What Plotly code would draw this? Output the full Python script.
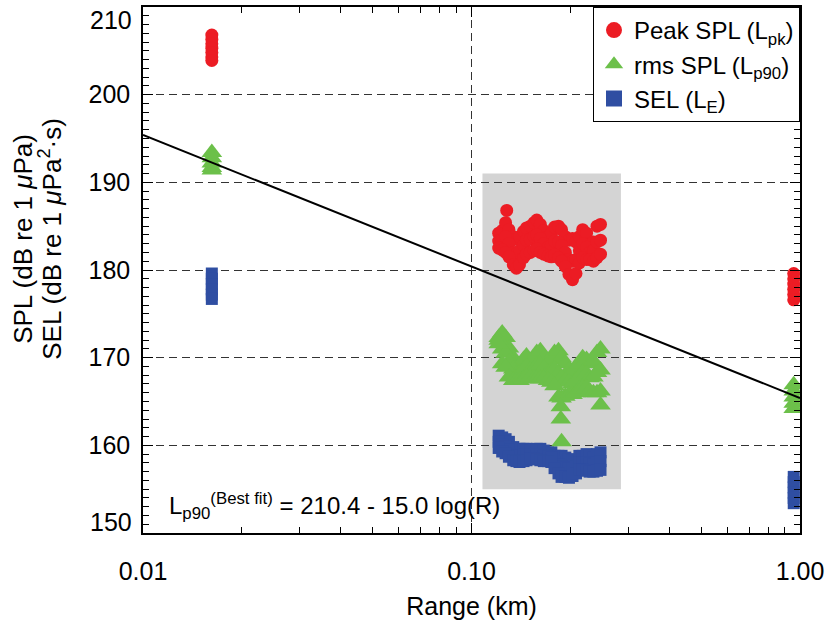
import math
import plotly.graph_objects as go

# ---------------- data ----------------
range_left = 0.0162
range_right = 0.957
range_mid = [0.121, 0.124, 0.127, 0.130, 0.134, 0.137, 0.140, 0.144, 0.147, 0.151,
             0.155, 0.158, 0.162, 0.166, 0.171, 0.175, 0.179, 0.184, 0.188, 0.193,
             0.198, 0.203, 0.208, 0.213, 0.218, 0.224, 0.229, 0.235, 0.241, 0.247]

peak_left = [206.8, 206.3, 205.8, 205.3, 204.8, 204.3, 203.9]
peak_mid_hi = [184.2, 184.5, 185.4, 184.6, 183.8, 183.5, 183.8, 184.4, 184.8, 185.0,
               185.4, 185.7, 185.2, 184.5, 183.8, 184.2, 184.9, 185.0, 184.6, 183.8,
               183.4, 183.6, 183.2, 183.8, 184.6, 184.2, 183.0, 183.2, 185.0, 185.2]
peak_mid_md = [183.3, 183.4, 183.8, 183.0, 182.0, 181.8, 182.2, 182.8, 183.4, 183.5,
               183.8, 184.0, 183.6, 183.0, 182.6, 182.8, 183.3, 183.2, 182.8, 182.0,
               181.2, 181.0, 181.2, 182.2, 183.0, 182.6, 182.0, 182.2, 183.2, 183.4]
peak_mid_lo = [182.5, 182.3, 182.0, 181.5, 180.6, 180.2, 180.6, 181.4, 181.8, 182.0,
               182.2, 182.4, 182.0, 181.8, 181.6, 181.5, 181.7, 181.4, 181.0, 180.4,
               179.5, 178.9, 179.6, 180.8, 181.4, 181.2, 181.2, 181.0, 181.4, 181.8]
peak_out_x = [0.128]
peak_out_y = [186.8]
peak_right = [179.6, 179.0, 178.4, 177.8, 177.2, 176.6]

rms_left = [193.4, 192.8, 192.2, 191.7, 191.4]
rms_mid_hi = [172.3, 172.8, 172.3, 171.1, 170.0, 168.9, 169.2, 169.8, 170.2, 169.4,
              169.8, 170.6, 170.8, 170.0, 169.3, 169.8, 170.6, 170.8, 170.0, 169.3,
              168.6, 168.3, 169.0, 169.3, 170.0, 169.8, 169.3, 169.6, 170.6, 171.0]
rms_mid_md = [172.0, 171.0, 170.5, 169.5, 168.7, 168.1, 168.3, 168.7, 169.0, 168.6,
              168.7, 169.1, 169.2, 168.8, 168.3, 168.5, 168.7, 168.2, 167.7, 167.4,
              167.2, 167.0, 167.5, 167.8, 168.3, 168.2, 167.7, 167.8, 168.3, 168.6]
rms_mid_lo = [171.6, 169.3, 168.9, 167.8, 167.4, 167.4, 167.4, 167.6, 167.8, 167.8,
              167.6, 167.6, 167.6, 167.6, 167.4, 167.2, 166.8, 165.5, 165.4, 165.6,
              165.8, 165.8, 166.0, 166.4, 166.6, 166.6, 166.2, 166.0, 166.0, 166.2]
rms_out_x = [0.187, 0.187, 0.188, 0.247]
rms_out_y = [164.4, 163.0, 160.4, 164.6]
rms_right = [166.9, 166.2, 165.5, 164.8, 164.2]

sel_left = [179.6, 179.0, 178.4, 177.8, 177.2, 176.7]
sel_mid_hi = [161.1, 160.9, 160.7, 160.4, 159.8, 159.4, 159.6, 159.6, 159.6, 159.4,
              159.5, 159.6, 159.6, 159.4, 159.2, 159.2, 158.8, 158.8, 158.8, 158.6,
              158.4, 158.3, 158.4, 158.8, 158.8, 159.0, 158.8, 158.6, 159.0, 159.2]
sel_mid_md = [160.4, 160.1, 159.9, 159.5, 159.0, 158.8, 158.8, 158.9, 159.0, 159.0,
              159.0, 159.0, 159.0, 158.8, 158.7, 158.6, 158.1, 157.8, 157.6, 157.5,
              157.4, 157.4, 157.6, 158.0, 158.0, 158.0, 157.9, 157.8, 158.0, 158.2]
sel_mid_lo = [159.7, 159.3, 159.1, 158.7, 158.3, 158.2, 158.1, 158.2, 158.3, 158.5,
              158.5, 158.4, 158.3, 158.2, 158.2, 158.1, 157.4, 156.8, 156.4, 156.4,
              156.3, 156.5, 156.8, 157.2, 157.2, 157.1, 157.0, 157.0, 157.1, 157.2]
sel_right = [156.4, 155.8, 155.2, 154.6, 154.0, 153.4]

fit_range = [0.01, 1.0]
fit_a, fit_b = 210.4, 15.0  # L = 210.4 - 15.0 log10(R[m])

shade_x = [0.108, 0.285]
shade_y = [155.0, 191.0]

ytick_vals = [150, 160, 170, 180, 190, 200, 210]
ytick_text = ["", "160", "170", "180", "190", "200", ""]
xtick_vals = [0.01, 0.1, 1.0]
xtick_text = ["0.01", "0.10", "1.00"]

y_title_lines = ["SPL (dB re 1 <i>μ</i>Pa)", "SEL (dB re 1 <i>μ</i>Pa<sup>2</sup>·s)"]

RED = "#ec1c24"
GREEN = "#6cc04a"
BLUE = "#2f4ea2"
FONT = "Liberation Sans, Arial, sans-serif"


def series_xy(left, his, mds, los, ox, oy, right):
    xs = [range_left] * len(left)
    ys = list(left)
    for arr in (his, mds, los):
        xs += range_mid
        ys += arr
    xs += ox
    ys += oy
    xs += [range_right] * len(right)
    ys += right
    return xs, ys


fig = go.Figure()

fit_y = [fit_a - fit_b * math.log10(r * 1000) for r in fit_range]

sx, sy = series_xy(sel_left, sel_mid_hi, sel_mid_md, sel_mid_lo, [], [], sel_right)
rx, ry = series_xy(rms_left, rms_mid_hi, rms_mid_md, rms_mid_lo, rms_out_x, rms_out_y, rms_right)
px, py = series_xy(peak_left, peak_mid_hi, peak_mid_md, peak_mid_lo, peak_out_x, peak_out_y, peak_right)

fig.add_trace(go.Scatter(x=sx, y=sy, mode="markers", showlegend=False,
                         marker=dict(symbol="square", size=12, color=BLUE, line=dict(width=0))))
fig.add_trace(go.Scatter(x=rx, y=ry, mode="markers", showlegend=False,
                         marker=dict(symbol="triangle-up", size=18, color=GREEN, line=dict(width=0))))
fig.add_trace(go.Scatter(x=px, y=py, mode="markers", showlegend=False,
                         marker=dict(symbol="circle", size=13, color=RED, line=dict(width=0))))
fig.add_trace(go.Scatter(x=fit_range, y=fit_y, mode="lines", showlegend=False,
                         line=dict(color="black", width=2)))

# legend entries
fig.add_trace(go.Scatter(x=[None], y=[None], mode="markers", name="Peak SPL (L<sub>pk</sub>)",
                         marker=dict(symbol="circle", size=16, color=RED)))
fig.add_trace(go.Scatter(x=[None], y=[None], mode="markers", name="rms SPL (L<sub>p90</sub>)",
                         marker=dict(symbol="triangle-up", size=16, color=GREEN)))
fig.add_trace(go.Scatter(x=[None], y=[None], mode="markers", name="SEL (L<sub>E</sub>)",
                         marker=dict(symbol="square", size=16, color=BLUE)))

fig.add_shape(type="rect", xref="x", yref="y", x0=shade_x[0], x1=shade_x[1],
              y0=shade_y[0], y1=shade_y[1], fillcolor="#d4d4d4", line=dict(width=0),
              layer="below")

fig.update_layout(
    width=829, height=625,
    margin=dict(l=143, r=27, t=5, b=92),
    paper_bgcolor="white", plot_bgcolor="white",
    font=dict(family=FONT, size=24, color="black"),
    legend=dict(x=1, y=1, xanchor="right", yanchor="top",
                bordercolor="black", borderwidth=1, bgcolor="white",
                font=dict(size=24), tracegroupgap=0, itemwidth=30),
)

fig.update_xaxes(
    type="log", range=[-2, 0],
    tickvals=xtick_vals, ticktext=xtick_text, tickfont=dict(size=25),
    ticks="inside", ticklen=10, tickcolor="black", tickwidth=1,
    ticklabelstandoff=15,
    minor=dict(dtick="D1", ticks="inside", ticklen=6, tickcolor="black", tickwidth=1, showgrid=False),
    showgrid=True, gridcolor="#333333", griddash="8px,5px", gridwidth=1,
    showline=True, linecolor="black", linewidth=1.5, mirror="ticks",
    zeroline=False,
    title=dict(text="Range (km)", font=dict(size=25), standoff=14),
)

fig.update_yaxes(
    range=[150, 210],
    tickvals=ytick_vals, ticktext=ytick_text, tickfont=dict(size=25),
    ticks="inside", ticklen=10, tickcolor="black", tickwidth=1,
    ticklabelstandoff=6,
    minor=dict(dtick=1, ticks="inside", ticklen=6, tickcolor="black", tickwidth=1, showgrid=False),
    showgrid=True, gridcolor="#333333", griddash="8px,5px", gridwidth=1,
    showline=True, linecolor="black", linewidth=1.5, mirror="ticks",
    zeroline=False,
)

# y-axis title, two lines
for line_text, xpos in zip(y_title_lines, [-0.182, -0.141]):
    fig.add_annotation(xref="paper", yref="paper", x=xpos, y=0.56, text=line_text,
                       textangle=-90, showarrow=False, xanchor="center", yanchor="middle",
                       font=dict(size=26))

# end tick labels (drawn inside, as in the original)
fig.add_annotation(xref="paper", yref="y", x=0, y=210, text="210", showarrow=False,
                   xanchor="right", yanchor="middle", xshift=-9, yshift=-13, font=dict(size=25))
fig.add_annotation(xref="paper", yref="y", x=0, y=150, text="150", showarrow=False,
                   xanchor="right", yanchor="middle", xshift=-9, yshift=11, font=dict(size=25))

fig.add_annotation(xref="paper", yref="y", x=0.037, y=153.1, showarrow=False,
                   xanchor="left", yanchor="middle",
                   text="L<sub>p90</sub><sup>(Best fit)</sup> = 210.4 - 15.0 log(R)",
                   font=dict(size=24))

fig.write_html("out.html")
